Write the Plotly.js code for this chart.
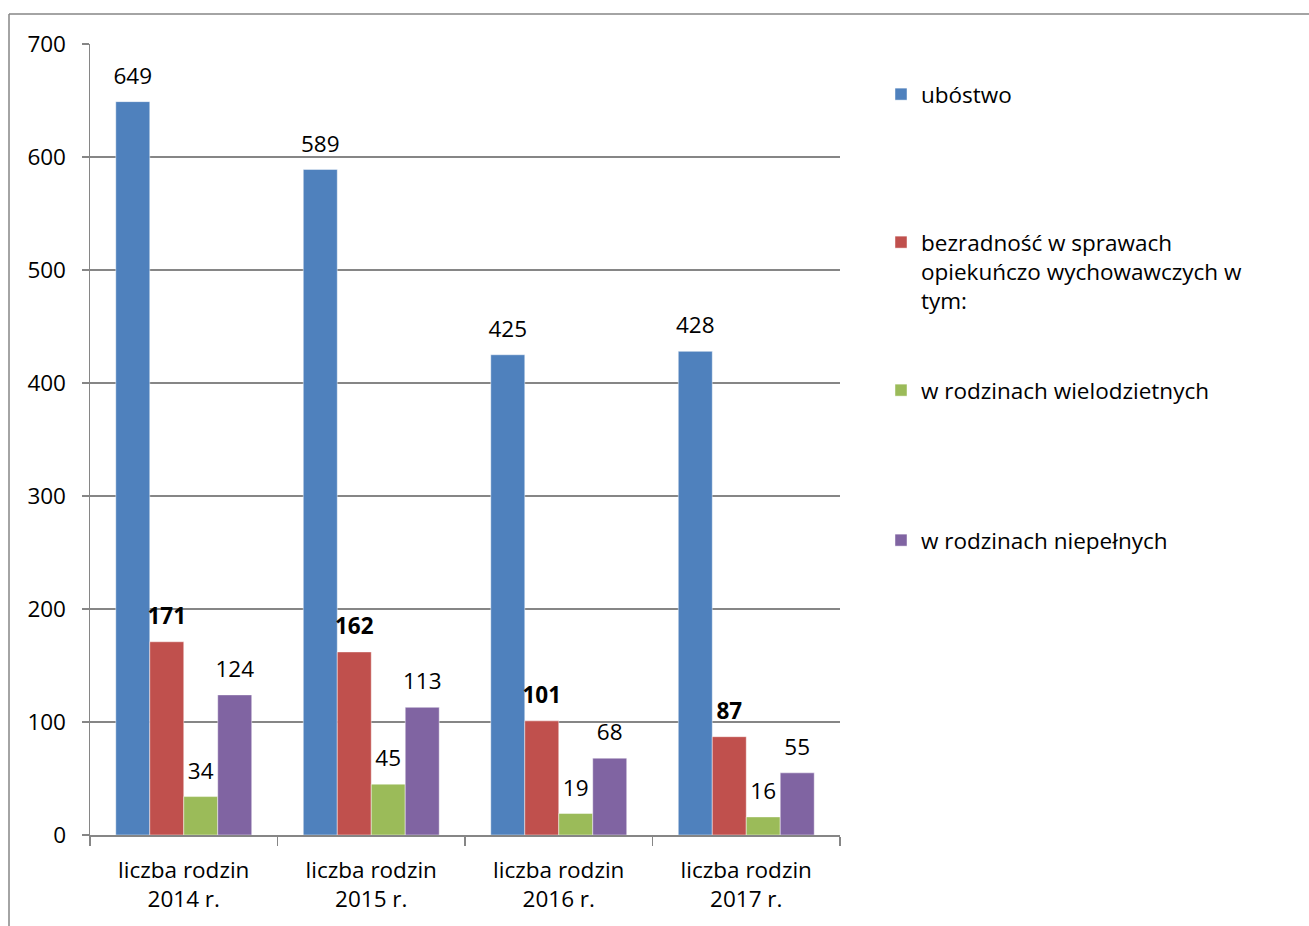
<!DOCTYPE html>
<html>
<head>
<meta charset="utf-8">
<script src="https://cdn.plot.ly/plotly-3.0.1.min.js"></script>
<style>
html,body{margin:0;padding:0;background:#fff;}
#chart{width:1309px;height:926px;}
</style>
</head>
<body>
<div id="chart"></div>
<script>
var categories = ["liczba rodzin<br>2014 r.", "liczba rodzin<br>2015 r.", "liczba rodzin<br>2016 r.", "liczba rodzin<br>2017 r."];
var seriesNames = ["ubóstwo", "bezradność w sprawach<br>opiekuńczo wychowawczych w<br>tym:", "w rodzinach wielodzietnych", "w rodzinach niepełnych"];
var ubostwo = [649, 589, 425, 428];
var bezradnosc = [171, 162, 101, 87];
var wielodzietne = [34, 45, 19, 16];
var niepelne = [124, 113, 68, 55];
var colors = ["#4F81BD", "#C0504D", "#9BBB59", "#8064A2"];
var yTicks = [0, 100, 200, 300, 400, 500, 600, 700];

var FONT = "'Open Sans', sans-serif";
var FS = 22.5;
var values = [ubostwo, bezradnosc, wielodzietne, niepelne];
var legendIds = ["legend", "legend2", "legend3", "legend4"];
var templates = ['%{y}', '<b>%{y}</b>', '%{y}', '%{y}'];

var traces = [];
values.forEach(function (v, i) {
  traces.push({
    type: "bar",
    name: seriesNames[i],
    x: categories,
    y: v,
    offsetgroup: String(i),
    marker: {color: colors[i], line: {color: "rgba(255,255,255,0.45)", width: 1}},
    legend: legendIds[i],
    hoverinfo: "x+y+name"
  });
});
values.forEach(function (v, i) {
  traces.push({
    type: "scatter",
    mode: "markers+text",
    x: categories,
    y: v,
    offsetgroup: String(i),
    texttemplate: templates[i],
    textposition: "top center",
    textfont: {family: FONT, size: FS, color: "#000"},
    marker: {size: 18, color: "rgba(0,0,0,0)", line: {width: 0}},
    cliponaxis: false,
    showlegend: false,
    hoverinfo: "skip"
  });
});

var legendFont = {family: FONT, size: FS, color: "#000"};
function leg(ypx) {
  return {
    x: 881 / 1309, xref: "container", xanchor: "left",
    y: 1 - ypx / 926, yref: "container", yanchor: "top",
    font: legendFont, bgcolor: "rgba(0,0,0,0)", valign: "top",
    itemclick: false, itemdoubleclick: false
  };
}

var layout = {
  width: 1309, height: 926,
  margin: {l: 90, r: 469, t: 44, b: 91},
  paper_bgcolor: "#fff", plot_bgcolor: "#fff",
  barmode: "group", bargap: 0.275, bargroupgap: 0,
  scattermode: "group", scattergap: 0.275,
  font: {family: FONT, size: FS, color: "#000"},
  xaxis: {
    type: "category",
    showgrid: false,
    showline: true, linecolor: "#868686", linewidth: 1.5,
    ticks: "outside", tickson: "boundaries", ticklen: 9, tickcolor: "#868686", tickwidth: 1.5,
    ticklabelstandoff: 14,
    tickfont: {family: FONT, size: FS, color: "#000"},
    automargin: false
  },
  yaxis: {
    range: [0, 700], tickvals: yTicks, ticktext: yTicks.map(String),
    showgrid: true, gridcolor: "#868686", gridwidth: 1.5,
    zeroline: false,
    showline: true, linecolor: "#868686", linewidth: 1.5,
    ticks: "outside", ticklen: 7, tickcolor: "#868686", tickwidth: 1.5,
    ticklabelstandoff: 11,
    tickfont: {family: FONT, size: FS, color: "#000"},
    automargin: false
  },
  showlegend: true,
  legend: leg(73),
  legend2: leg(221),
  legend3: leg(369),
  legend4: leg(519),
  shapes: [
    {type: "line", xref: "paper", yref: "paper", x0: (9 - 90) / 750, x1: (1320 - 90) / 750, y0: (835 - 14) / 791, y1: (835 - 14) / 791, line: {color: "#868686", width: 1.5}},
    {type: "line", xref: "paper", yref: "paper", x0: (9 - 90) / 750, x1: (9 - 90) / 750, y0: (835 - 14) / 791, y1: (835 - 940) / 791, line: {color: "#868686", width: 1.5}}
  ]
};

Plotly.newPlot("chart", traces, layout, {displayModeBar: false, staticPlot: true});
</script>
</body>
</html>
